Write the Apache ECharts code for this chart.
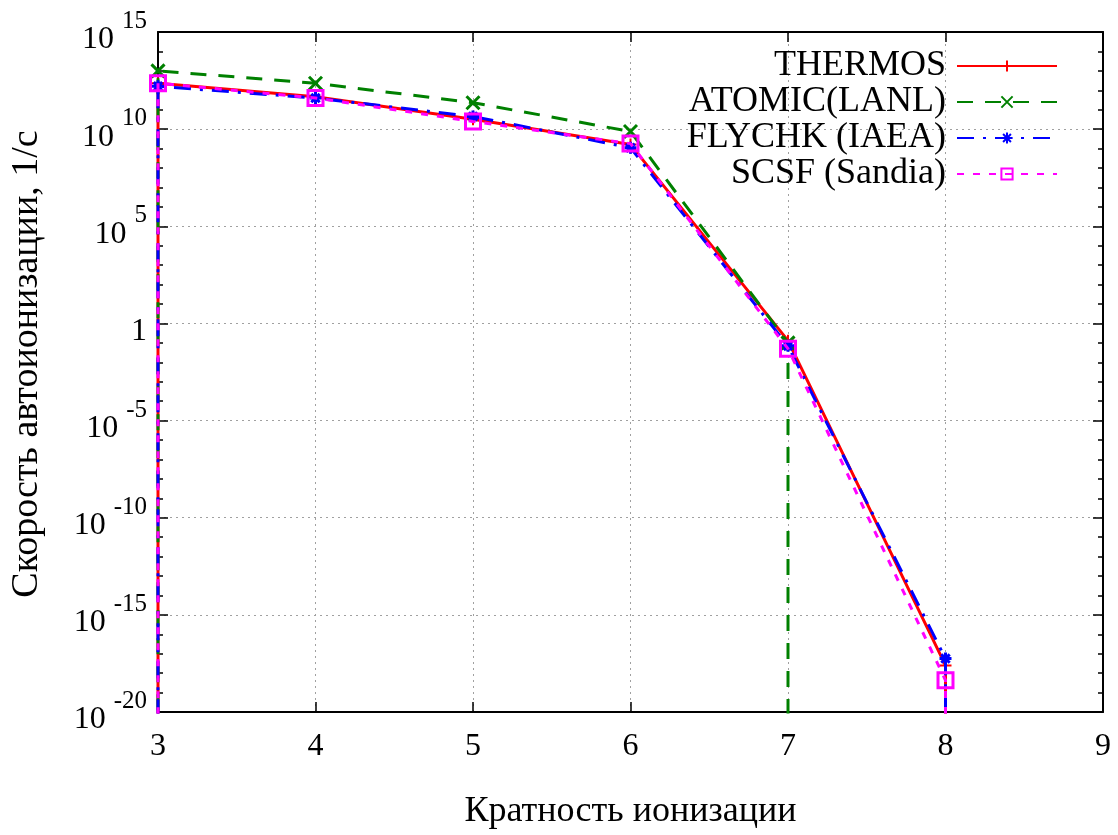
<!DOCTYPE html>
<html>
<head>
<meta charset="utf-8">
<script src="https://cdn.jsdelivr.net/npm/echarts/dist/echarts.min.js"></script>
<style>
html,body{margin:0;padding:0;background:#fff;}
#chart{width:1118px;height:835px;}
</style>
</head>
<body>
<div id="chart"></div>
<script>
// ---- data ----
const seriesNames = ['THERMOS', 'ATOMIC(LANL)', 'FLYCHK (IAEA)', 'SCSF (Sandia)'];
const chargesFull = [3, 4, 5, 6, 7, 8];
const chargesAtomic = [3, 4, 5, 6, 7];
const thermos = [2.3e12, 4.6e11, 3.2e10, 1.6e9, 0.13, 2.5e-18];
const atomic  = [1.0e13, 2.3e12, 2.3e11, 7.6e9, 0.1];
const flychk  = [1.6e12, 4.0e11, 4.5e10, 1.1e9, 0.07, 5.6e-18];
const scsf    = [2.3e12, 4.0e11, 2.5e10, 1.8e9, 0.05, 4.3e-19];
const floorValue = 1e-30;           // drops to the bottom of the plot
const xTicks = [3, 4, 5, 6, 7, 8, 9];
const yExpTicks = [-20, -15, -10, -5, 0, 5, 10, 15];

function build(xs, ys) {
  const out = [[xs[0], floorValue]];
  xs.forEach((x, i) => out.push([x, ys[i]]));
  out.push([xs[xs.length - 1], floorValue]);
  return out;
}

const FONT = 'Liberation Serif';
const chart = echarts.init(document.getElementById('chart'), null, {renderer: 'canvas'});

const gridLine = {show: true, lineStyle: {color: '#a0a0a0', width: 1, type: [2, 4]}};
const plusPath = 'path://M5,0L5,10M0,5L10,5';
const crossPath = 'path://M0,0L10,10M10,0L0,10';
const starPath = 'path://M5,0L5,10M0,5L10,5M1.5,1.5L8.5,8.5M8.5,1.5L1.5,8.5';

const option = {
  animation: false,
  backgroundColor: '#fff',
  grid: {left: 156, right: 15, top: 32, bottom: 115, containLabel: false},
  legend: {
    orient: 'vertical',
    right: 55,
    top: 43,
    align: 'right',
    itemWidth: 100,
    itemHeight: 14,
    itemGap: 0,
    textStyle: {fontFamily: FONT, fontSize: 36, color: '#000', lineHeight: 32, padding: [0, 6, 0, 0]},
    data: seriesNames
  },
  xAxis: [{
    type: 'value', min: 3, max: 9, interval: 1, position: 'bottom',
    name: 'Кратность ионизации', nameLocation: 'middle', nameGap: 82,
    nameTextStyle: {fontFamily: FONT, fontSize: 36, color: '#000'},
    axisLine: {show: true, onZero: false, lineStyle: {color: '#000', width: 2}},
    axisTick: {show: true, inside: true, length: 10, lineStyle: {color: '#000', width: 1.5}},
    axisLabel: {fontFamily: FONT, fontSize: 32, color: '#000', margin: 19,
      formatter: v => xTicks.includes(v) ? String(v) : ''},
    splitLine: gridLine
  }, {
    type: 'value', min: 3, max: 9, interval: 1, position: 'top',
    axisLine: {show: true, onZero: false, lineStyle: {color: '#000', width: 2}},
    axisTick: {show: true, inside: true, length: 10, lineStyle: {color: '#000', width: 1.5}},
    axisLabel: {show: false}, splitLine: {show: false}
  }],
  yAxis: [{
    type: 'log', logBase: 10, min: 1e-20, max: 1e15, interval: 5, position: 'left',
    name: 'Скорость автоионизации, 1/с', nameLocation: 'middle', nameGap: 112,
    nameRotate: 90,
    nameTextStyle: {fontFamily: FONT, fontSize: 38, color: '#000', padding: [0, 0, 0, 16]},
    axisLine: {show: true, onZero: false, lineStyle: {color: '#000', width: 2}},
    axisTick: {show: true, inside: true, length: 10, lineStyle: {color: '#000', width: 1.5}},
    minorTick: {show: false},
    axisLabel: {
      margin: 11, align: 'right', padding: [16, 0, 0, 0],
      formatter: v => {
        const e = Math.round(Math.log10(v));
        if (!yExpTicks.includes(e)) return '';
        if (e === 0) return '{one|1}';
        return '{m|10}{s|' + e + '}';
      },
      rich: {
        one: {fontFamily: FONT, fontSize: 32, color: '#000', lineHeight: 32, verticalAlign: 'bottom'},
        m: {fontFamily: FONT, fontSize: 32, color: '#000', lineHeight: 32, verticalAlign: 'bottom'},
        s: {fontFamily: FONT, fontSize: 25, color: '#000', lineHeight: 25, padding: [0, 0, 22, 8], verticalAlign: 'bottom'}
      }
    },
    splitLine: gridLine
  }, {
    type: 'value', min: -20, max: 15, interval: 1, position: 'left',
    axisLine: {show: false},
    axisTick: {show: true, inside: true, length: 5, lineStyle: {color: '#000', width: 1.5}},
    axisLabel: {show: false}, splitLine: {show: false}
  }, {
    type: 'value', min: -20, max: 15, interval: 1, position: 'right',
    axisLine: {show: true, onZero: false, lineStyle: {color: '#000', width: 2}},
    axisTick: {show: true, inside: true, length: 5, lineStyle: {color: '#000', width: 1.5}},
    axisLabel: {show: false}, splitLine: {show: false}
  }, {
    type: 'value', min: -20, max: 15, interval: 5, position: 'right',
    axisLine: {show: false},
    axisTick: {show: true, inside: true, length: 10, lineStyle: {color: '#000', width: 1.5}},
    axisLabel: {show: false}, splitLine: {show: false}
  }],
  series: [{
    name: seriesNames[0], type: 'line', data: build(chargesFull, thermos),
    xAxisIndex: 0, yAxisIndex: 0, clip: true,
    symbol: plusPath, symbolSize: 12, showAllSymbol: true,
    lineStyle: {color: '#ff0000', width: 3, type: 'solid'},
    itemStyle: {color: '#ff0000', borderColor: '#ff0000', borderWidth: 2},
    z: 2
  }, {
    name: seriesNames[1], type: 'line', data: build(chargesAtomic, atomic),
    xAxisIndex: 0, yAxisIndex: 0, clip: true,
    symbol: crossPath, symbolSize: 13, showAllSymbol: true,
    lineStyle: {color: '#008000', width: 3, type: [16, 12]},
    itemStyle: {color: '#008000', borderColor: '#008000', borderWidth: 3},
    z: 3
  }, {
    name: seriesNames[2], type: 'line', data: build(chargesFull, flychk),
    xAxisIndex: 0, yAxisIndex: 0, clip: true,
    symbol: starPath, symbolSize: 12, showAllSymbol: true,
    lineStyle: {color: '#0000ff', width: 3, type: [17, 9, 3, 9]},
    itemStyle: {color: '#0000ff', borderColor: '#0000ff', borderWidth: 3},
    z: 4
  }, {
    name: seriesNames[3], type: 'line', data: build(chargesFull, scsf),
    xAxisIndex: 0, yAxisIndex: 0, clip: true,
    symbol: 'rect', symbolSize: 15, showAllSymbol: true,
    lineStyle: {color: '#ff00ff', width: 3, type: [7, 9]},
    itemStyle: {color: 'rgba(255,255,255,0)', borderColor: '#ff00ff', borderWidth: 3},
    z: 5
  }]
};
chart.setOption(option);
</script>
</body>
</html>
